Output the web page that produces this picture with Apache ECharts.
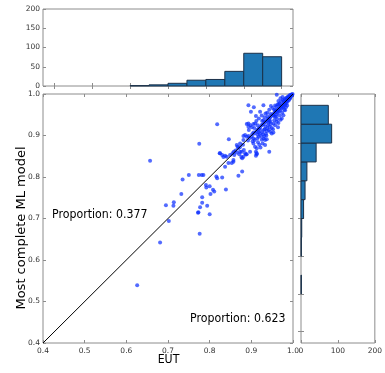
<!DOCTYPE html>
<html><head><meta charset="utf-8">
<script src="https://cdn.jsdelivr.net/npm/echarts@6/dist/echarts.min.js"></script>
<style>html,body{margin:0;padding:0;background:#fff}#c{width:385px;height:373px}</style>
</head><body><div id="c"></div>
<script>
// ---- data ----
const xAxisTitle = 'EUT';
const yAxisTitle = 'Most complete ML model';
const noteUpper = 'Proportion: 0.377';
const noteLower = 'Proportion: 0.623';

const mainTicks = [0.4, 0.5, 0.6, 0.7, 0.8, 0.9, 1.0];
const histTicks = [0, 50, 100, 150, 200];
const sideHistTicks = [0, 100, 200];

const diagLine = [[0.4, 0.4], [1.0, 1.0]];

const histEdges = [0.40, 0.45, 0.50, 0.55, 0.60, 0.65, 0.70, 0.75, 0.80, 0.85, 0.90, 0.95, 1.00];
const eutCounts = [0, 0, 0, 0, 1, 3, 7, 15, 17, 38, 85, 76];
const mlCounts  = [0, 0, 1, 0, 1, 2, 7, 11, 16, 41, 83, 74];

// scattered points away from the diagonal (EUT, ML)
const lowPoints = [
[0.626,0.539],[0.657,0.839],[0.681,0.642],[0.695,0.732],[0.702,0.694],[0.714,0.739],[0.713,0.731],
[0.732,0.759],[0.735,0.794],[0.750,0.805],[0.772,0.714],[0.776,0.663],[0.800,0.710],[0.774,0.805],
[0.781,0.805],[0.785,0.805],[0.775,0.880],[0.816,0.801],[0.818,0.797],[0.824,0.857],[0.818,0.927],
[0.791,0.781],[0.792,0.775],[0.800,0.778],[0.808,0.769],[0.811,0.765],[0.802,0.759],[0.782,0.751],
[0.782,0.738],[0.777,0.727],[0.773,0.715],[0.794,0.731],[0.825,0.857],[0.830,0.853],[0.837,0.851],
[0.841,0.849],[0.833,0.848],[0.830,0.799],[0.839,0.770],[0.837,0.825],[0.845,0.834],[0.846,0.891]
];
const midPoints = [
[0.857,0.841],[0.849,0.853],[0.855,0.857],[0.858,0.861],[0.859,0.853],[0.865,0.877],[0.867,0.873],
[0.873,0.872],[0.869,0.803],[0.878,0.813],[0.878,0.845],[0.877,0.861],[0.882,0.865],[0.889,0.855],
[0.885,0.857],[0.881,0.899],[0.889,0.928],[0.893,0.921],[0.894,0.913],[0.853,0.834],[0.857,0.837],
[0.871,0.855],[0.873,0.861],[0.887,0.854],[0.881,0.849],[0.876,0.848],[0.893,0.973],[0.899,0.957],
[0.893,0.929],[0.898,0.925],[0.885,0.901],[0.889,0.897],[0.893,0.899],[0.881,0.889],[0.873,0.881],
[0.869,0.869],[0.865,0.859],[0.897,0.861],[0.862,0.864],[0.880,0.878],[0.892,0.888],[0.896,0.894]
];
const highPoints = [
[0.906,0.968],[0.929,0.973],[0.934,0.953],[0.911,0.947],[0.929,0.937],[0.945,0.933],[0.947,0.971],
[0.905,0.928],[0.909,0.929],[0.901,0.920],[0.901,0.897],[0.905,0.893],[0.929,0.893],[0.933,0.889],
[0.937,0.891],[0.927,0.881],[0.933,0.877],[0.945,0.909],[0.949,0.905],[0.921,0.913],[0.926,0.908],
[0.930,0.913],[0.935,0.904],[0.937,0.911],[0.905,0.881],[0.909,0.873],[0.913,0.869],[0.911,0.861],
[0.913,0.855],[0.911,0.851],[0.913,0.857],[0.943,0.861],
[0.902,0.903],[0.905,0.907],[0.908,0.905],[0.912,0.910],[0.915,0.914],[0.918,0.917],[0.921,0.919],
[0.924,0.925],[0.927,0.926],[0.930,0.928],[0.933,0.932],[0.936,0.935],[0.939,0.938],[0.942,0.941],
[0.945,0.943],[0.948,0.947],
[0.915,0.902],[0.918,0.897],[0.920,0.905],[0.923,0.899],[0.925,0.890],[0.928,0.903],[0.931,0.898],
[0.934,0.921],[0.938,0.917],[0.940,0.925],[0.942,0.913],[0.944,0.921],[0.947,0.928],[0.949,0.918],
[0.916,0.884],[0.919,0.878],[0.922,0.871],[0.908,0.889],[0.903,0.886],
[0.912,0.935],[0.918,0.941],[0.925,0.948],[0.938,0.955],[0.943,0.962],[0.921,0.957],[0.932,0.944],
[0.907,0.918],[0.915,0.925],[0.946,0.952],[0.939,0.946],[0.926,0.935],[0.914,0.893],[0.936,0.900],
[0.941,0.931],[0.917,0.908],[0.932,0.915],[0.944,0.936]
];
const topPoints = [
[0.951,0.966],[0.958,0.961],[0.961,0.998],[0.953,0.949],[0.959,0.945],[0.973,0.941],[0.977,0.949],
[0.981,0.961],[0.953,0.929],[0.961,0.933],[0.953,0.907],
[0.952,0.951],[0.955,0.954],[0.958,0.957],[0.961,0.960],[0.964,0.963],[0.967,0.966],[0.970,0.969],
[0.973,0.972],[0.976,0.975],[0.979,0.978],[0.982,0.981],[0.985,0.984],[0.988,0.987],[0.991,0.990],
[0.994,0.993],[0.997,0.996],
[0.956,0.945],[0.960,0.950],[0.963,0.955],[0.966,0.958],[0.969,0.960],[0.972,0.965],[0.975,0.968],
[0.978,0.970],[0.981,0.975],[0.984,0.978],[0.987,0.982],[0.990,0.985],[0.993,0.989],[0.962,0.940],
[0.968,0.948],[0.974,0.955],[0.979,0.962],[0.983,0.968],[0.986,0.972],[0.955,0.937],[0.965,0.930],
[0.970,0.938],[0.957,0.925],[0.964,0.920],[0.952,0.915],
[0.955,0.962],[0.960,0.970],[0.963,0.975],[0.968,0.977],[0.972,0.982],[0.976,0.985],[0.980,0.988],
[0.984,0.991],[0.988,0.994],[0.992,0.997],[0.957,0.972],[0.965,0.983],[0.970,0.990],[0.975,0.993],
[0.966,0.975],[0.978,0.983],[0.982,0.987],[0.986,0.990],[0.990,0.994],[0.994,0.997],[0.996,0.999],
[0.998,0.998],[0.999,1.000]
];

// ---- chart ----
const scatterData = lowPoints.concat(midPoints, highPoints, topPoints);
const topHistData = eutCounts.map((c, i) => [histEdges[i], histEdges[i + 1], c]);
const sideHistData = mlCounts.map((c, i) => [histEdges[i], histEdges[i + 1], c]);

const FRAME = '#8c8c8c';
const LABEL = { fontFamily: 'DejaVu Sans', fontSize: 7.5, color: '#333' };
function tick(extra) {
  return Object.assign({ show: true, inside: true, length: 3, lineStyle: { color: FRAME, width: 1 } }, extra || {});
}
const noLine = { show: false };
const noSplit = { show: false };

const chart = echarts.init(document.getElementById('c'), null, { renderer: 'canvas' });

const mainX = { min: mainTicks[0], max: mainTicks[mainTicks.length - 1], interval: 0.1 };
const histRange = { min: histEdges[0] - 0.03, max: histEdges[histEdges.length - 1] + 0.03 };
const histTickVals = mainTicks;

chart.setOption({
  animation: false,
  backgroundColor: '#fff',
  grid: [
    { left: 43, top: 94, width: 250, height: 249, show: true, borderColor: FRAME, borderWidth: 1, backgroundColor: 'transparent' },
    { left: 43, top: 9, width: 250, height: 77, show: true, borderColor: FRAME, borderWidth: 1, backgroundColor: 'transparent' },
    { left: 301, top: 94, width: 77, height: 249, show: true, borderColor: FRAME, borderWidth: 1, backgroundColor: 'transparent' }
  ],
  xAxis: [
    Object.assign({ type: 'value', gridIndex: 0, position: 'bottom', axisLine: noLine, splitLine: noSplit,
      axisTick: tick(), axisLabel: Object.assign({ margin: 4, formatter: v => v.toFixed(1) }, LABEL) }, mainX),
    Object.assign({ type: 'value', gridIndex: 0, position: 'top', axisLine: noLine, splitLine: noSplit,
      axisTick: tick(), axisLabel: { show: false } }, mainX),
    Object.assign({ type: 'value', gridIndex: 1, position: 'bottom', axisLine: noLine, splitLine: noSplit,
      axisTick: tick({ customValues: histTickVals }), axisLabel: { show: false } }, histRange),
    Object.assign({ type: 'value', gridIndex: 1, position: 'top', axisLine: noLine, splitLine: noSplit,
      axisTick: tick({ customValues: histTickVals }), axisLabel: { show: false } }, histRange),
    { type: 'value', gridIndex: 2, position: 'bottom', min: 0, max: 200, interval: 100, axisLine: noLine, splitLine: noSplit,
      axisTick: tick(), axisLabel: Object.assign({ margin: 4 }, LABEL) },
    { type: 'value', gridIndex: 2, position: 'top', min: 0, max: 200, interval: 100, axisLine: noLine, splitLine: noSplit,
      axisTick: tick(), axisLabel: { show: false } }
  ],
  yAxis: [
    Object.assign({ type: 'value', gridIndex: 0, position: 'left', axisLine: noLine, splitLine: noSplit,
      axisTick: tick(), axisLabel: Object.assign({ margin: 3, formatter: v => v.toFixed(1) }, LABEL) }, mainX),
    Object.assign({ type: 'value', gridIndex: 0, position: 'right', axisLine: noLine, splitLine: noSplit,
      axisTick: tick(), axisLabel: { show: false } }, mainX),
    { type: 'value', gridIndex: 1, position: 'left', min: 0, max: 200, interval: 50, axisLine: noLine, splitLine: noSplit,
      axisTick: tick(), axisLabel: Object.assign({ margin: 3 }, LABEL) },
    { type: 'value', gridIndex: 1, position: 'right', min: 0, max: 200, interval: 50, axisLine: noLine, splitLine: noSplit,
      axisTick: tick(), axisLabel: { show: false } },
    Object.assign({ type: 'value', gridIndex: 2, position: 'left', axisLine: noLine, splitLine: noSplit,
      axisTick: tick({ customValues: histTickVals }), axisLabel: { show: false } }, histRange),
    Object.assign({ type: 'value', gridIndex: 2, position: 'right', axisLine: noLine, splitLine: noSplit,
      axisTick: tick({ customValues: histTickVals }), axisLabel: { show: false } }, histRange)
  ],
  series: [
    { type: 'scatter', xAxisIndex: 0, yAxisIndex: 0, data: scatterData, symbol: 'circle', symbolSize: 4,
      itemStyle: { color: '#0a2cff', opacity: 0.7 }, silent: true, z: 2 },
    { type: 'line', xAxisIndex: 0, yAxisIndex: 0, data: diagLine, symbol: 'none',
      lineStyle: { color: '#000', width: 1 }, silent: true, z: 3 },
    { type: 'custom', xAxisIndex: 2, yAxisIndex: 2, data: topHistData, encode: { x: [0, 1], y: 2 }, z: 2,
      renderItem: function (params, api) {
        const c = api.value(2); if (!c) return null;
        const p0 = api.coord([api.value(0), c]);
        const p1 = api.coord([api.value(1), 0]);
        return { type: 'rect', shape: { x: p0[0], y: p0[1], width: p1[0] - p0[0], height: p1[1] - p0[1] },
          style: { fill: '#1f77b4', stroke: '#1b3048', lineWidth: 1 } };
      } },
    { type: 'custom', xAxisIndex: 4, yAxisIndex: 4, data: sideHistData, encode: { x: 2, y: [0, 1] }, z: 2,
      renderItem: function (params, api) {
        const c = api.value(2); if (!c) return null;
        const p0 = api.coord([0, api.value(1)]);
        const p1 = api.coord([c, api.value(0)]);
        return { type: 'rect', shape: { x: p0[0], y: p0[1], width: p1[0] - p0[0], height: p1[1] - p0[1] },
          style: { fill: '#1f77b4', stroke: '#1b3048', lineWidth: 1 } };
      } }
  ],
  graphic: [
    { type: 'text', x: 52, y: 214.5, scaleX: 0.88, style: { text: noteUpper, font: '12.5px "DejaVu Sans"', fill: '#000',
      textAlign: 'left', textVerticalAlign: 'middle', align: 'left', verticalAlign: 'middle' } },
    { type: 'text', x: 190, y: 318.7, scaleX: 0.88, style: { text: noteLower, font: '12.5px "DejaVu Sans"', fill: '#000',
      textAlign: 'left', textVerticalAlign: 'middle', align: 'left', verticalAlign: 'middle' } },
    { type: 'text', x: 168.5, y: 359.5, scaleX: 0.88, style: { text: xAxisTitle, font: '12.5px "DejaVu Sans"', fill: '#000',
      textAlign: 'center', textVerticalAlign: 'middle', align: 'center', verticalAlign: 'middle' } },
    { type: 'text', x: 22, y: 228, rotation: Math.PI / 2, style: { text: yAxisTitle, font: '13px "DejaVu Sans"', fill: '#000',
      textAlign: 'center', textVerticalAlign: 'middle', align: 'center', verticalAlign: 'middle' } }
  ]
});
</script>
</body></html>
